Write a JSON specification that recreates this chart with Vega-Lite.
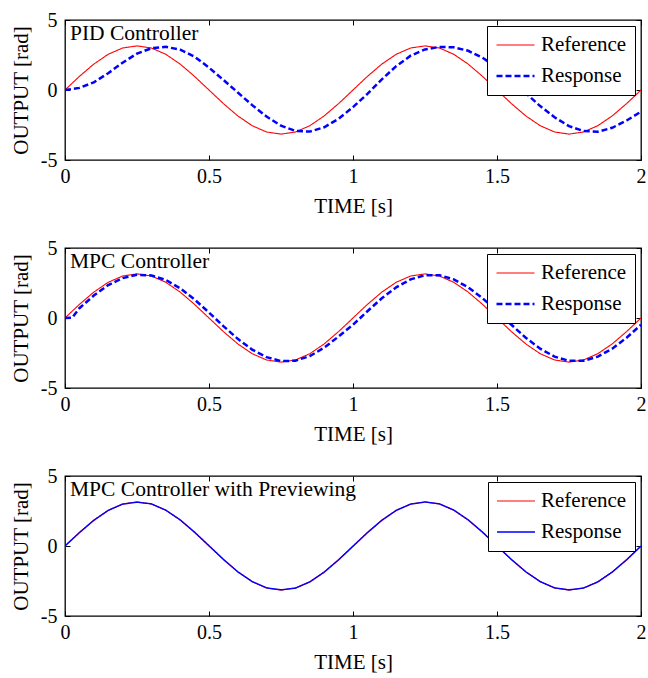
{
  "$schema": "https://vega.github.io/schema/vega-lite/v6.json",
  "padding": {"top": 9, "left": 9, "right": 0, "bottom": 1},
  "background": "white",
  "spacing": 20,
  "datasets": {
    "signals": [
      {"series":"Reference","panel":"all","t":0,"v":0},{"series":"Reference","panel":"all","t":0.05,"v":0.97},{"series":"Reference","panel":"all","t":0.1,"v":1.85},{"series":"Reference","panel":"all","t":0.15,"v":2.55},{"series":"Reference","panel":"all","t":0.2,"v":3.0},{"series":"Reference","panel":"all","t":0.25,"v":3.15},{"series":"Reference","panel":"all","t":0.3,"v":3.0},{"series":"Reference","panel":"all","t":0.35,"v":2.55},{"series":"Reference","panel":"all","t":0.4,"v":1.85},{"series":"Reference","panel":"all","t":0.45,"v":0.97},{"series":"Reference","panel":"all","t":0.5,"v":0},{"series":"Reference","panel":"all","t":0.55,"v":-0.97},{"series":"Reference","panel":"all","t":0.6,"v":-1.85},{"series":"Reference","panel":"all","t":0.65,"v":-2.55},{"series":"Reference","panel":"all","t":0.7,"v":-3.0},{"series":"Reference","panel":"all","t":0.75,"v":-3.15},{"series":"Reference","panel":"all","t":0.8,"v":-3.0},{"series":"Reference","panel":"all","t":0.85,"v":-2.55},{"series":"Reference","panel":"all","t":0.9,"v":-1.85},{"series":"Reference","panel":"all","t":0.95,"v":-0.97},{"series":"Reference","panel":"all","t":1.0,"v":0},{"series":"Reference","panel":"all","t":1.05,"v":0.97},{"series":"Reference","panel":"all","t":1.1,"v":1.85},{"series":"Reference","panel":"all","t":1.15,"v":2.55},{"series":"Reference","panel":"all","t":1.2,"v":3.0},{"series":"Reference","panel":"all","t":1.25,"v":3.15},{"series":"Reference","panel":"all","t":1.3,"v":3.0},{"series":"Reference","panel":"all","t":1.35,"v":2.55},{"series":"Reference","panel":"all","t":1.4,"v":1.85},{"series":"Reference","panel":"all","t":1.45,"v":0.97},{"series":"Reference","panel":"all","t":1.5,"v":0},{"series":"Reference","panel":"all","t":1.55,"v":-0.97},{"series":"Reference","panel":"all","t":1.6,"v":-1.85},{"series":"Reference","panel":"all","t":1.65,"v":-2.55},{"series":"Reference","panel":"all","t":1.7,"v":-3.0},{"series":"Reference","panel":"all","t":1.75,"v":-3.15},{"series":"Reference","panel":"all","t":1.8,"v":-3.0},{"series":"Reference","panel":"all","t":1.85,"v":-2.55},{"series":"Reference","panel":"all","t":1.9,"v":-1.85},{"series":"Reference","panel":"all","t":1.95,"v":-0.97},{"series":"Reference","panel":"all","t":2.0,"v":0},

      {"series":"Response","panel":"PID","t":0,"v":0},{"series":"Response","panel":"PID","t":0.05,"v":0.15},{"series":"Response","panel":"PID","t":0.1,"v":0.55},{"series":"Response","panel":"PID","t":0.15,"v":1.2},{"series":"Response","panel":"PID","t":0.2,"v":1.95},{"series":"Response","panel":"PID","t":0.25,"v":2.6},{"series":"Response","panel":"PID","t":0.3,"v":2.98},{"series":"Response","panel":"PID","t":0.35,"v":3.08},{"series":"Response","panel":"PID","t":0.4,"v":2.88},{"series":"Response","panel":"PID","t":0.45,"v":2.38},{"series":"Response","panel":"PID","t":0.5,"v":1.6},{"series":"Response","panel":"PID","t":0.55,"v":0.72},{"series":"Response","panel":"PID","t":0.6,"v":-0.18},{"series":"Response","panel":"PID","t":0.65,"v":-1.08},{"series":"Response","panel":"PID","t":0.7,"v":-1.9},{"series":"Response","panel":"PID","t":0.75,"v":-2.55},{"series":"Response","panel":"PID","t":0.8,"v":-2.92},{"series":"Response","panel":"PID","t":0.85,"v":-2.97},{"series":"Response","panel":"PID","t":0.9,"v":-2.66},{"series":"Response","panel":"PID","t":0.95,"v":-2.06},{"series":"Response","panel":"PID","t":1.0,"v":-1.22},{"series":"Response","panel":"PID","t":1.05,"v":-0.28},{"series":"Response","panel":"PID","t":1.1,"v":0.76},{"series":"Response","panel":"PID","t":1.15,"v":1.7},{"series":"Response","panel":"PID","t":1.2,"v":2.45},{"series":"Response","panel":"PID","t":1.25,"v":2.9},{"series":"Response","panel":"PID","t":1.3,"v":3.08},{"series":"Response","panel":"PID","t":1.35,"v":3.05},{"series":"Response","panel":"PID","t":1.4,"v":2.8},{"series":"Response","panel":"PID","t":1.45,"v":2.3},{"series":"Response","panel":"PID","t":1.5,"v":1.6},{"series":"Response","panel":"PID","t":1.55,"v":0.72},{"series":"Response","panel":"PID","t":1.6,"v":-0.22},{"series":"Response","panel":"PID","t":1.65,"v":-1.15},{"series":"Response","panel":"PID","t":1.7,"v":-1.95},{"series":"Response","panel":"PID","t":1.75,"v":-2.58},{"series":"Response","panel":"PID","t":1.8,"v":-2.93},{"series":"Response","panel":"PID","t":1.85,"v":-2.98},{"series":"Response","panel":"PID","t":1.9,"v":-2.7},{"series":"Response","panel":"PID","t":1.95,"v":-2.18},{"series":"Response","panel":"PID","t":2.0,"v":-1.55},

      {"series":"Response","panel":"MPC","t":0,"v":0},{"series":"Response","panel":"MPC","t":0.025,"v":0.03},{"series":"Response","panel":"MPC","t":0.05,"v":0.7},{"series":"Response","panel":"MPC","t":0.1,"v":1.6},{"series":"Response","panel":"MPC","t":0.15,"v":2.35},{"series":"Response","panel":"MPC","t":0.2,"v":2.85},{"series":"Response","panel":"MPC","t":0.25,"v":3.09},{"series":"Response","panel":"MPC","t":0.3,"v":3.04},{"series":"Response","panel":"MPC","t":0.35,"v":2.72},{"series":"Response","panel":"MPC","t":0.4,"v":2.12},{"series":"Response","panel":"MPC","t":0.45,"v":1.32},{"series":"Response","panel":"MPC","t":0.5,"v":0.39},{"series":"Response","panel":"MPC","t":0.55,"v":-0.58},{"series":"Response","panel":"MPC","t":0.6,"v":-1.49},{"series":"Response","panel":"MPC","t":0.65,"v":-2.26},{"series":"Response","panel":"MPC","t":0.7,"v":-2.8},{"series":"Response","panel":"MPC","t":0.75,"v":-3.08},{"series":"Response","panel":"MPC","t":0.8,"v":-3.05},{"series":"Response","panel":"MPC","t":0.85,"v":-2.72},{"series":"Response","panel":"MPC","t":0.9,"v":-2.12},{"series":"Response","panel":"MPC","t":0.95,"v":-1.32},{"series":"Response","panel":"MPC","t":1.0,"v":-0.48},{"series":"Response","panel":"MPC","t":1.05,"v":0.48},{"series":"Response","panel":"MPC","t":1.1,"v":1.41},{"series":"Response","panel":"MPC","t":1.15,"v":2.19},{"series":"Response","panel":"MPC","t":1.2,"v":2.76},{"series":"Response","panel":"MPC","t":1.25,"v":3.06},{"series":"Response","panel":"MPC","t":1.3,"v":3.06},{"series":"Response","panel":"MPC","t":1.35,"v":2.76},{"series":"Response","panel":"MPC","t":1.4,"v":2.19},{"series":"Response","panel":"MPC","t":1.45,"v":1.41},{"series":"Response","panel":"MPC","t":1.5,"v":0.48},{"series":"Response","panel":"MPC","t":1.55,"v":-0.48},{"series":"Response","panel":"MPC","t":1.6,"v":-1.41},{"series":"Response","panel":"MPC","t":1.65,"v":-2.19},{"series":"Response","panel":"MPC","t":1.7,"v":-2.76},{"series":"Response","panel":"MPC","t":1.75,"v":-3.06},{"series":"Response","panel":"MPC","t":1.8,"v":-3.06},{"series":"Response","panel":"MPC","t":1.85,"v":-2.76},{"series":"Response","panel":"MPC","t":1.9,"v":-2.19},{"series":"Response","panel":"MPC","t":1.95,"v":-1.41},{"series":"Response","panel":"MPC","t":2.0,"v":-0.48},

      {"series":"Response","panel":"PRE","t":0,"v":0},{"series":"Response","panel":"PRE","t":0.05,"v":0.95},{"series":"Response","panel":"PRE","t":0.1,"v":1.83},{"series":"Response","panel":"PRE","t":0.15,"v":2.54},{"series":"Response","panel":"PRE","t":0.2,"v":2.99},{"series":"Response","panel":"PRE","t":0.25,"v":3.13},{"series":"Response","panel":"PRE","t":0.3,"v":3.01},{"series":"Response","panel":"PRE","t":0.35,"v":2.56},{"series":"Response","panel":"PRE","t":0.4,"v":1.87},{"series":"Response","panel":"PRE","t":0.45,"v":0.99},{"series":"Response","panel":"PRE","t":0.5,"v":0.02},{"series":"Response","panel":"PRE","t":0.55,"v":-0.95},{"series":"Response","panel":"PRE","t":0.6,"v":-1.84},{"series":"Response","panel":"PRE","t":0.65,"v":-2.54},{"series":"Response","panel":"PRE","t":0.7,"v":-2.99},{"series":"Response","panel":"PRE","t":0.75,"v":-3.13},{"series":"Response","panel":"PRE","t":0.8,"v":-3.01},{"series":"Response","panel":"PRE","t":0.85,"v":-2.57},{"series":"Response","panel":"PRE","t":0.9,"v":-1.87},{"series":"Response","panel":"PRE","t":0.95,"v":-0.99},{"series":"Response","panel":"PRE","t":1.0,"v":-0.02},{"series":"Response","panel":"PRE","t":1.05,"v":0.95},{"series":"Response","panel":"PRE","t":1.1,"v":1.83},{"series":"Response","panel":"PRE","t":1.15,"v":2.54},{"series":"Response","panel":"PRE","t":1.2,"v":2.99},{"series":"Response","panel":"PRE","t":1.25,"v":3.14},{"series":"Response","panel":"PRE","t":1.3,"v":3.01},{"series":"Response","panel":"PRE","t":1.35,"v":2.57},{"series":"Response","panel":"PRE","t":1.4,"v":1.87},{"series":"Response","panel":"PRE","t":1.45,"v":0.99},{"series":"Response","panel":"PRE","t":1.5,"v":0.01},{"series":"Response","panel":"PRE","t":1.55,"v":-0.96},{"series":"Response","panel":"PRE","t":1.6,"v":-1.84},{"series":"Response","panel":"PRE","t":1.65,"v":-2.54},{"series":"Response","panel":"PRE","t":1.7,"v":-2.99},{"series":"Response","panel":"PRE","t":1.75,"v":-3.13},{"series":"Response","panel":"PRE","t":1.8,"v":-3.01},{"series":"Response","panel":"PRE","t":1.85,"v":-2.57},{"series":"Response","panel":"PRE","t":1.9,"v":-1.87},{"series":"Response","panel":"PRE","t":1.95,"v":-0.99},{"series":"Response","panel":"PRE","t":2.0,"v":-0.01}
    ],
    "labels": [
      {"panel":"PID","label":"PID Controller"},
      {"panel":"MPC","label":"MPC Controller"},
      {"panel":"PRE","label":"MPC Controller with Previewing"}
    ]
  },
  "vconcat": [
    {
      "width": 576, "height": 140,
      "layer": [
        {
          "data": {"name": "signals"},
          "transform": [{"filter": "datum.series == 'Reference' || datum.panel == 'PID'"}],
          "mark": {"type": "line", "clip": true},
          "encoding": {
            "x": {"field": "t", "type": "quantitative", "scale": {"domain": [0, 2], "nice": false}, "axis": {"orient": "bottom", "title": "TIME [s]", "values": [0, 0.5, 1, 1.5, 2]}},
            "y": {"field": "v", "type": "quantitative", "scale": {"domain": [-5, 5], "nice": false}, "axis": {"orient": "left", "title": "OUTPUT [rad]", "values": [-5, 0, 5]}},
            "color": {"field": "series", "type": "nominal", "scale": {"domain": ["Reference", "Response"], "range": ["#ff0000", "#0000ff"]}, "legend": {"title": null}},
            "strokeDash": {"field": "series", "type": "nominal", "scale": {"domain": ["Reference", "Response"], "range": [[1, 0], [6, 3]]}, "legend": {"title": null}},
            "strokeWidth": {"field": "series", "type": "nominal", "scale": {"domain": ["Reference", "Response"], "range": [1.1, 2.5]}, "legend": {"title": null}}
          }
        },
        {
          "data": {"name": "labels"},
          "transform": [{"filter": "datum.panel == 'PID'"}],
          "mark": {"type": "text", "align": "left", "baseline": "top", "dx": 5, "dy": 3, "font": "Liberation Serif", "fontSize": 21.5, "color": "black"},
          "encoding": {
            "x": {"datum": 0, "type": "quantitative", "axis": {"orient": "top", "labels": false, "title": null, "values": [0, 0.5, 1, 1.5, 2]}},
            "y": {"datum": 5, "type": "quantitative", "axis": {"orient": "right", "labels": false, "title": null, "values": [-5, 0, 5]}},
            "text": {"field": "label"}
          }
        }
      ],
      "resolve": {"axis": {"x": "independent", "y": "independent"}}
    },
    {
      "width": 576, "height": 140,
      "layer": [
        {
          "data": {"name": "signals"},
          "transform": [{"filter": "datum.series == 'Reference' || datum.panel == 'MPC'"}],
          "mark": {"type": "line", "clip": true},
          "encoding": {
            "x": {"field": "t", "type": "quantitative", "scale": {"domain": [0, 2], "nice": false}, "axis": {"orient": "bottom", "title": "TIME [s]", "values": [0, 0.5, 1, 1.5, 2]}},
            "y": {"field": "v", "type": "quantitative", "scale": {"domain": [-5, 5], "nice": false}, "axis": {"orient": "left", "title": "OUTPUT [rad]", "values": [-5, 0, 5]}},
            "color": {"field": "series", "type": "nominal", "scale": {"domain": ["Reference", "Response"], "range": ["#ff0000", "#0000ff"]}, "legend": {"title": null}},
            "strokeDash": {"field": "series", "type": "nominal", "scale": {"domain": ["Reference", "Response"], "range": [[1, 0], [6, 3]]}, "legend": {"title": null}},
            "strokeWidth": {"field": "series", "type": "nominal", "scale": {"domain": ["Reference", "Response"], "range": [1.1, 2.5]}, "legend": {"title": null}}
          }
        },
        {
          "data": {"name": "labels"},
          "transform": [{"filter": "datum.panel == 'MPC'"}],
          "mark": {"type": "text", "align": "left", "baseline": "top", "dx": 5, "dy": 3, "font": "Liberation Serif", "fontSize": 21.5, "color": "black"},
          "encoding": {
            "x": {"datum": 0, "type": "quantitative", "axis": {"orient": "top", "labels": false, "title": null, "values": [0, 0.5, 1, 1.5, 2]}},
            "y": {"datum": 5, "type": "quantitative", "axis": {"orient": "right", "labels": false, "title": null, "values": [-5, 0, 5]}},
            "text": {"field": "label"}
          }
        }
      ],
      "resolve": {"axis": {"x": "independent", "y": "independent"}}
    },
    {
      "width": 576, "height": 140,
      "layer": [
        {
          "data": {"name": "signals"},
          "transform": [{"filter": "datum.series == 'Reference' || datum.panel == 'PRE'"}],
          "mark": {"type": "line", "clip": true},
          "encoding": {
            "x": {"field": "t", "type": "quantitative", "scale": {"domain": [0, 2], "nice": false}, "axis": {"orient": "bottom", "title": "TIME [s]", "values": [0, 0.5, 1, 1.5, 2]}},
            "y": {"field": "v", "type": "quantitative", "scale": {"domain": [-5, 5], "nice": false}, "axis": {"orient": "left", "title": "OUTPUT [rad]", "values": [-5, 0, 5]}},
            "color": {"field": "series", "type": "nominal", "scale": {"domain": ["Reference", "Response"], "range": ["#ff0000", "#0000ff"]}, "legend": {"title": null}},
            "strokeDash": {"field": "series", "type": "nominal", "scale": {"domain": ["Reference", "Response"], "range": [[1, 0], [1, 0]]}, "legend": {"title": null}},
            "strokeWidth": {"field": "series", "type": "nominal", "scale": {"domain": ["Reference", "Response"], "range": [1.1, 1.4]}, "legend": {"title": null}}
          }
        },
        {
          "data": {"name": "labels"},
          "transform": [{"filter": "datum.panel == 'PRE'"}],
          "mark": {"type": "text", "align": "left", "baseline": "top", "dx": 5, "dy": 3, "font": "Liberation Serif", "fontSize": 21.5, "color": "black"},
          "encoding": {
            "x": {"datum": 0, "type": "quantitative", "axis": {"orient": "top", "labels": false, "title": null, "values": [0, 0.5, 1, 1.5, 2]}},
            "y": {"datum": 5, "type": "quantitative", "axis": {"orient": "right", "labels": false, "title": null, "values": [-5, 0, 5]}},
            "text": {"field": "label"}
          }
        }
      ],
      "resolve": {"axis": {"x": "independent", "y": "independent"}}
    }
  ],
  "resolve": {
    "scale": {"color": "independent", "strokeDash": "independent", "strokeWidth": "independent"},
    "legend": {"color": "independent", "strokeDash": "independent", "strokeWidth": "independent"}
  },
  "config": {
    "view": {"stroke": "black", "strokeWidth": 1.3},
    "axis": {
      "grid": false, "domain": false,
      "ticks": true, "tickSize": -5, "tickColor": "black", "tickWidth": 1,
      "labelFont": "Liberation Serif", "labelFontSize": 20, "labelColor": "black",
      "labelExpr": "'' + datum.value",
      "titleFont": "Liberation Serif", "titleFontSize": 21, "titleFontWeight": "normal", "titleColor": "black"
    },
    "axisX": {"labelPadding": 11, "titlePadding": 9, "labelFlush": false},
    "axisY": {"labelPadding": 13, "titlePadding": 9, "labelFlush": false},
    "legend": {
      "orient": "top-right", "offset": 6,
      "strokeColor": "black", "fillColor": "white", "padding": 8,
      "symbolType": "stroke", "symbolSize": 1444, "clipHeight": 22,
      "labelFont": "Liberation Serif", "labelFontSize": 21, "labelColor": "black", "labelOffset": 5,
      "rowPadding": 9
    }
  }
}
